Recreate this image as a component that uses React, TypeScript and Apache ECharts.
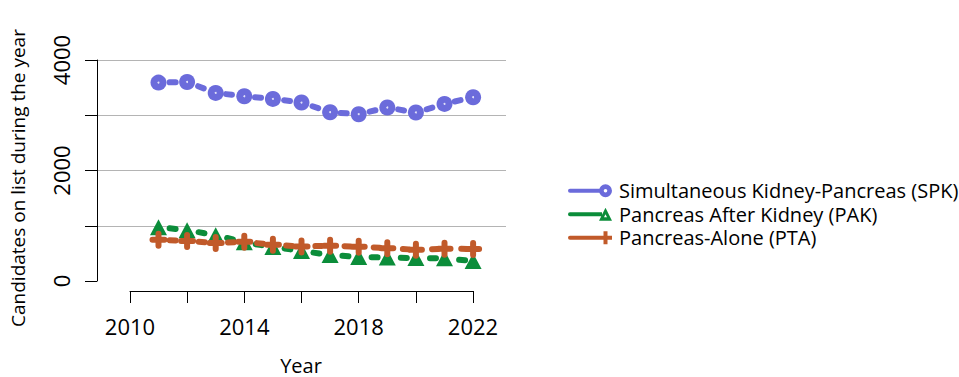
import React, { useEffect, useRef } from 'react';
import * as echarts from 'echarts';

const years = [2011, 2012, 2013, 2014, 2015, 2016, 2017, 2018, 2019, 2020, 2021, 2022];
const spkValues = [3591, 3602, 3404, 3344, 3296, 3230, 3055, 3019, 3140, 3050, 3205, 3326];
const pakValues = [975, 920, 830, 700, 615, 545, 470, 435, 425, 415, 410, 360];
const ptaValues = [745, 725, 690, 710, 655, 625, 640, 620, 595, 565, 585, 580];
const seriesNames = [
  'Simultaneous Kidney-Pancreas (SPK)',
  'Pancreas After Kidney (PAK)',
  'Pancreas-Alone (PTA)',
];
const seriesColors = ['#6B6BDB', '#0B8D3A', '#C15A2A'];
const xTickLabels = ['2010', '2014', '2018', '2022'];
const yTickLabels = ['0', '2000', '4000'];
const yTitle = 'Candidates on list during the year';
const xTitle = 'Year';

const FONT = '"Open Sans", "Noto Sans", sans-serif';

const LINE = 'M2,4.5 H34 V8.5 H2 A2,2 0 0 1 2,4.5 Z ';
const ringIcon =
  'path://' + LINE +
  'M31,6.5 A6.5,6.5 0 1 1 44,6.5 A6.5,6.5 0 1 1 31,6.5 Z ' +
  'M35.7,6.5 A1.8,1.8 0 1 0 39.3,6.5 A1.8,1.8 0 1 0 35.7,6.5 Z';
const triIcon =
  'path://' + LINE +
  'M37.5,0 L44,13 L31,13 Z M37.5,6.6 L36,9.6 L39,9.6 Z';
const plusIcon =
  'path://' + LINE +
  'M35.5,0 H39.5 V4.5 H44 V8.5 H39.5 V13 H35.5 V8.5 H31 V4.5 H35.5 Z';
const plusSymbol =
  'path://M6,3 A3,3 0 0 1 12,3 V6 H15 A3,3 0 0 1 15,12 H12 V15 A3,3 0 0 1 6,15 V12 H3 A3,3 0 0 1 3,6 H6 Z';

function toPairs(vals: number[]) {
  return years.map((y, i) => [y, vals[i]]);
}

export default function App() {
  const ref = useRef<HTMLDivElement>(null);
  useEffect(() => {
    const chart = echarts.init(ref.current!, undefined, { renderer: 'svg' });
    const lineStyleBase = { width: 6, type: [6, 23.2] as any, dashOffset: 17.9, cap: 'round' as const };
    chart.setOption({
      animation: false,
      textStyle: { fontFamily: FONT, color: '#000' },
      grid: [
        { left: 97, top: 60, width: 409, height: 221 },
        { left: 130, top: 200, width: 343, height: 91 },
      ],
      xAxis: [
        { type: 'value', gridIndex: 0, min: 2008.85, max: 2023.15, show: false },
        {
          type: 'value',
          gridIndex: 1,
          min: 2010,
          max: 2022,
          interval: 2,
          axisLine: { show: true, lineStyle: { color: '#000', width: 1 } },
          axisTick: { show: true, length: 12, lineStyle: { color: '#000', width: 1 } },
          splitLine: { show: false },
          axisLabel: {
            margin: 24,
            fontSize: 22,
            color: '#000',
            fontFamily: FONT,
            formatter: (v: number) => (xTickLabels.includes(String(v)) ? String(v) : ''),
          },
        },
      ],
      yAxis: [
        {
          type: 'value',
          gridIndex: 0,
          min: 0,
          max: 4000,
          interval: 1000,
          axisLine: { show: true, lineStyle: { color: '#000', width: 1 } },
          axisTick: { show: true, length: 12, lineStyle: { color: '#000', width: 1 } },
          splitLine: { show: true, showMinLine: false, lineStyle: { color: '#b4b4b4', width: 1.2 } },
          axisLabel: {
            rotate: 90,
            margin: 25,
            fontSize: 22,
            color: '#000',
            fontFamily: FONT,
            formatter: (v: number) => (yTickLabels.includes(String(v)) ? String(v) : ''),
          },
        },
        { type: 'value', gridIndex: 1, show: false },
      ],
      legend: {
        orient: 'vertical',
        left: 563,
        top: 174,
        itemWidth: 44,
        itemHeight: 13,
        itemGap: 0,
        selectedMode: false,
        itemStyle: { borderWidth: 0 },
        textStyle: { fontSize: 20, color: '#000', fontFamily: FONT, lineHeight: 23.5, padding: [0, 0, 0, 2] },
        data: [
          { name: seriesNames[0], icon: ringIcon },
          { name: seriesNames[1], icon: triIcon },
          { name: seriesNames[2], icon: plusIcon },
        ],
      },
      graphic: [
        {
          type: 'text',
          x: 18,
          y: 178,
          rotation: Math.PI / 2,
          style: {
            text: yTitle,
            fontSize: 19,
            fontFamily: FONT,
            fill: '#000',
            align: 'center',
            verticalAlign: 'middle',
          },
        },
        {
          type: 'text',
          x: 301,
          y: 365,
          style: {
            text: xTitle,
            fontSize: 20,
            fontFamily: FONT,
            fill: '#000',
            align: 'center',
            verticalAlign: 'middle',
          },
        },
      ],
      series: [
        {
          name: seriesNames[0],
          type: 'line',
          xAxisIndex: 0,
          yAxisIndex: 0,
          data: toPairs(spkValues),
          color: seriesColors[0],
          symbol: 'circle',
          symbolSize: 16,
          itemStyle: { color: seriesColors[0] },
          lineStyle: { ...lineStyleBase, color: seriesColors[0] },
          silent: true,
        },
        {
          name: 'spk-centre',
          type: 'scatter',
          xAxisIndex: 0,
          yAxisIndex: 0,
          data: toPairs(spkValues),
          symbol: 'circle',
          symbolSize: 2,
          itemStyle: { color: '#ffffff' },
          z: 5,
          silent: true,
        },
        {
          name: seriesNames[1],
          type: 'line',
          xAxisIndex: 0,
          yAxisIndex: 0,
          data: toPairs(pakValues),
          color: seriesColors[1],
          symbol: 'triangle',
          symbolSize: [17, 16],
          itemStyle: { color: seriesColors[1] },
          lineStyle: { ...lineStyleBase, color: seriesColors[1] },
          silent: true,
        },
        {
          name: seriesNames[2],
          type: 'line',
          xAxisIndex: 0,
          yAxisIndex: 0,
          data: toPairs(ptaValues),
          color: seriesColors[2],
          symbol: plusSymbol,
          symbolSize: 18,
          itemStyle: { color: seriesColors[2] },
          lineStyle: { ...lineStyleBase, color: seriesColors[2] },
          silent: true,
        },
      ],
    });
    return () => chart.dispose();
  }, []);
  return <div ref={ref} style={{ position: 'absolute', left: 0, top: 0, width: 959, height: 377 }} />;
}
